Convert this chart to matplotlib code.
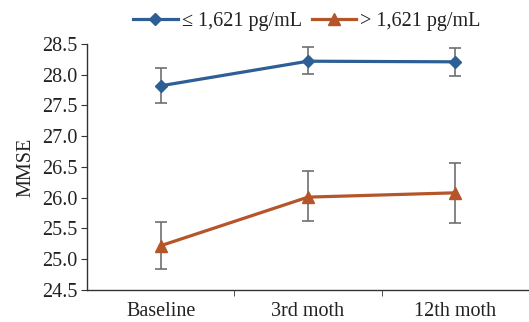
import matplotlib
matplotlib.use("Agg")
import matplotlib.pyplot as plt
import numpy as np

categories = ["Baseline", "3rd moth", "12th moth"]
low_mean = [27.82, 28.22, 28.21]
low_err_lo = [27.54, 28.01, 27.98]
low_err_hi = [28.11, 28.45, 28.43]
high_mean = [25.22, 26.01, 26.08]
high_err_lo = [24.84, 25.62, 25.59]
high_err_hi = [25.61, 26.43, 26.57]
yticks = [24.5, 25.0, 25.5, 26.0, 26.5, 27.0, 27.5, 28.0, 28.5]

plt.rcParams['font.family'] = ['Liberation Serif', 'DejaVu Serif']

fig = plt.figure(figsize=(5.29, 3.22), dpi=100)
ax = fig.add_axes([0.1645, 0.0994, 0.8355, 0.7640])

x = np.arange(len(categories)) + 0.5
blue = "#2D5E94"
orange = "#B4552A"
gray = "#707070"

def err(m, lo, hi):
    m = np.array(m); return [m - np.array(lo), np.array(hi) - m]

ax.errorbar(x, low_mean, yerr=err(low_mean, low_err_lo, low_err_hi), fmt='none',
            ecolor=gray, elinewidth=1.2, capsize=4, capthick=1.2, zorder=2)
ax.errorbar(x, high_mean, yerr=err(high_mean, high_err_lo, high_err_hi), fmt='none',
            ecolor=gray, elinewidth=1.2, capsize=4, capthick=1.2, zorder=2)
ax.plot(x, low_mean, color=blue, lw=2.3, marker='D', ms=6.5, zorder=3,
        label="≤ 1,621 pg/mL")
ax.plot(x, high_mean, color=orange, lw=2.3, marker='^', ms=8, zorder=3,
        label="> 1,621 pg/mL")

fs = 14.5
ax.set_xlim(0, 3)
ax.set_ylim(24.5, 28.5)
ax.set_yticks(yticks)
ax.set_yticklabels([f"{v:.1f}" for v in yticks])
ax.set_xticks(x)
ax.set_xticklabels(categories)
ax.set_xticks([1, 2], minor=True)
ax.tick_params(axis='x', which='major', length=0, pad=9, labelsize=fs)
ax.tick_params(axis='x', which='minor', length=4, direction='out', color='#333333')
ax.tick_params(axis='y', length=4, direction='out', labelsize=fs, color='#333333', pad=3)
ax.tick_params(axis='both', labelcolor='#222222')
for s in ['top', 'right']:
    ax.spines[s].set_visible(False)
for s in ['left', 'bottom']:
    ax.spines[s].set_color('#333333')
    ax.spines[s].set_linewidth(1.0)
ax.set_ylabel("MMSE", fontsize=fs, color='#222222', labelpad=5)

fig.legend(loc='center', bbox_to_anchor=(0.58, 0.932), ncol=2, frameon=False,
           fontsize=fs, handlelength=2.2, handletextpad=0.2, columnspacing=0.5,
           labelcolor='#222222')

fig.savefig("out.png", dpi=100)
